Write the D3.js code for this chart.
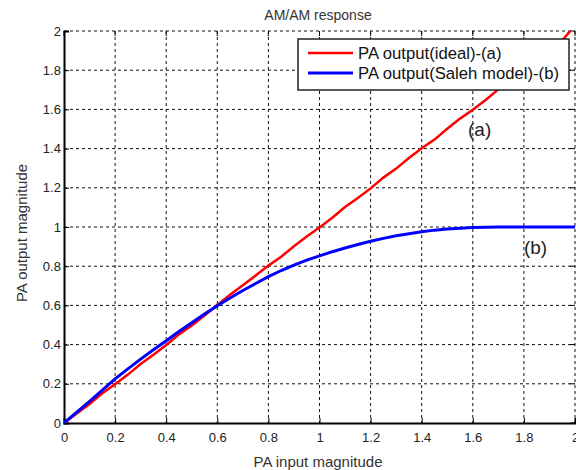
<!DOCTYPE html>
<html>
<head>
<meta charset="utf-8">
<script src="https://cdn.jsdelivr.net/npm/d3@7"></script>
<style>
  body { margin: 0; background: #fff; }
  text { font-family: "Liberation Sans", Arial, sans-serif; }
</style>
</head>
<body>
<div id="chart"></div>
<script>
// input magnitude samples
const inputMag = [0, 0.05, 0.1, 0.15, 0.2, 0.25, 0.3, 0.35, 0.4, 0.45, 0.5,
  0.55, 0.6, 0.65, 0.7, 0.75, 0.8, 0.85, 0.9, 0.95, 1.0,
  1.05, 1.1, 1.15, 1.2, 1.25, 1.3, 1.35, 1.4, 1.45, 1.5,
  1.55, 1.6, 1.65, 1.7, 1.75, 1.8, 1.85, 1.9, 1.95, 2.0];

// PA output (ideal) - (a)
const idealOut = [0, 0.048, 0.097, 0.152, 0.198, 0.247, 0.301, 0.348, 0.398, 0.452, 0.497,
  0.548, 0.602, 0.655, 0.703, 0.752, 0.803, 0.848, 0.902, 0.951, 0.998,
  1.047, 1.102, 1.148, 1.197, 1.252, 1.298, 1.352, 1.402, 1.446, 1.501,
  1.553, 1.598, 1.648, 1.702, 1.749, 1.797, 1.852, 1.898, 1.951, 2.03];

// PA output (Saleh model) - (b)
const salehOut = [0, 0.055, 0.11, 0.168, 0.225, 0.276, 0.326, 0.374, 0.42, 0.467, 0.512,
  0.556, 0.598, 0.638, 0.676, 0.712, 0.747, 0.778, 0.806, 0.831, 0.853,
  0.874, 0.893, 0.911, 0.927, 0.942, 0.955, 0.966, 0.976, 0.984, 0.99,
  0.994, 0.997, 0.999, 1.0, 1.0, 1.0, 1.0, 1.0, 1.0, 1.0];

const xTicks = [0, 0.2, 0.4, 0.6, 0.8, 1, 1.2, 1.4, 1.6, 1.8, 2];
const yTicks = [0, 0.2, 0.4, 0.6, 0.8, 1, 1.2, 1.4, 1.6, 1.8, 2];
const legendLabels = ["PA output(ideal)-(a)", "PA output(Saleh model)-(b)"];

let width = 576, height = 470;
let plotL = 64, plotR = 575, plotT = 31, plotB = 423;

let svg = d3.select("#chart").append("svg")
    .attr("width", width)
    .attr("height", height);

svg.append("rect").attr("width", width).attr("height", height).attr("fill", "white");

let x = d3.scaleLinear().domain([0, 2]).range([plotL, plotR]);
let y = d3.scaleLinear().domain([0, 2]).range([plotB, plotT]);

svg.append("defs").append("clipPath").attr("id", "clip")
    .append("rect")
    .attr("x", plotL).attr("y", plotT)
    .attr("width", plotR - plotL).attr("height", plotB - plotT);

// grid
let grid = svg.append("g")
    .attr("stroke", "#111")
    .attr("stroke-width", 1)
    .attr("stroke-dasharray", "3,3");
grid.selectAll(".gx").data(xTicks.slice(1)).enter().append("line")
    .attr("x1", d => x(d)).attr("x2", d => x(d))
    .attr("y1", plotT).attr("y2", plotB);
grid.selectAll(".gy").data(yTicks.slice(1)).enter().append("line")
    .attr("x1", plotL).attr("x2", plotR)
    .attr("y1", d => y(d)).attr("y2", d => y(d));

// axes (ticks inward, like matlab)
let xAxis = d3.axisBottom(x).tickValues(xTicks).tickSize(-5).tickPadding(10)
    .tickFormat(d => String(d));
let yAxis = d3.axisLeft(y).tickValues(yTicks).tickSize(-5).tickPadding(7)
    .tickFormat(d => String(d));

let gx = svg.append("g").attr("transform", `translate(0,${plotB})`).call(xAxis);
let gy = svg.append("g").attr("transform", `translate(${plotL},0)`).call(yAxis);
[gx, gy].forEach(g => {
    g.select(".domain").attr("stroke", "#000").attr("stroke-width", 2);
    g.selectAll(".tick line").attr("stroke", "#000");
    g.selectAll(".tick text")
        .attr("fill", "#222")
        .style("font-size", "13px")
        .style("font-family", "'Liberation Sans', Arial, sans-serif");
});
gy.selectAll(".tick text").attr("dx", "0.3em");

// top and right ticks
svg.append("g").selectAll("line").data(xTicks).enter().append("line")
    .attr("x1", d => x(d)).attr("x2", d => x(d))
    .attr("y1", plotT).attr("y2", plotT + 5)
    .attr("stroke", "#000");
svg.append("g").selectAll("line").data(yTicks).enter().append("line")
    .attr("x1", plotR - 5).attr("x2", plotR)
    .attr("y1", d => y(d)).attr("y2", d => y(d))
    .attr("stroke", "#000");

// curves
let curve = d3.line().x((d, i) => x(inputMag[i])).y(d => y(d));
let plot = svg.append("g").attr("clip-path", "url(#clip)");
plot.append("path")
    .datum(idealOut)
    .attr("d", curve)
    .attr("fill", "none")
    .attr("stroke", "#ff0000")
    .attr("stroke-width", 2.5);
plot.append("path")
    .datum(salehOut)
    .attr("d", curve)
    .attr("fill", "none")
    .attr("stroke", "#0000ff")
    .attr("stroke-width", 3);

// curve labels
svg.append("text").attr("x", 468).attr("y", y(1.5) + 7)
    .attr("font-size", "19px").attr("fill", "#222").text("(a)");
svg.append("text").attr("x", x(1.8)).attr("y", y(0.9) + 7)
    .attr("font-size", "19px").attr("fill", "#222").text("(b)");

// legend
let lg = svg.append("g");
lg.append("rect")
    .attr("x", 298).attr("y", 39)
    .attr("width", 271).attr("height", 51)
    .attr("fill", "white")
    .attr("stroke", "#222")
    .attr("stroke-width", 1.5);
let colors = ["#ff0000", "#0000ff"];
legendLabels.forEach((lab, i) => {
    let ly = 53 + i * 20;
    lg.append("line")
        .attr("x1", 308).attr("x2", 353)
        .attr("y1", ly).attr("y2", ly)
        .attr("stroke", colors[i])
        .attr("stroke-width", i ? 3 : 2.5);
    lg.append("text")
        .attr("x", 358).attr("y", ly + 6)
        .attr("font-size", "16.7px")
        .attr("fill", "#111")
        .text(lab);
});

// titles
svg.append("text").attr("x", 318).attr("y", 20)
    .attr("text-anchor", "middle").attr("font-size", "14px").attr("fill", "#333")
    .text("AM/AM response");
svg.append("text").attr("x", 318).attr("y", 467)
    .attr("text-anchor", "middle").attr("font-size", "15px").attr("fill", "#333")
    .text("PA input magnitude");
svg.append("text")
    .attr("transform", "translate(27,233) rotate(-90)")
    .attr("text-anchor", "middle").attr("font-size", "15px").attr("fill", "#333")
    .text("PA output magnitude");
</script>
</body>
</html>
